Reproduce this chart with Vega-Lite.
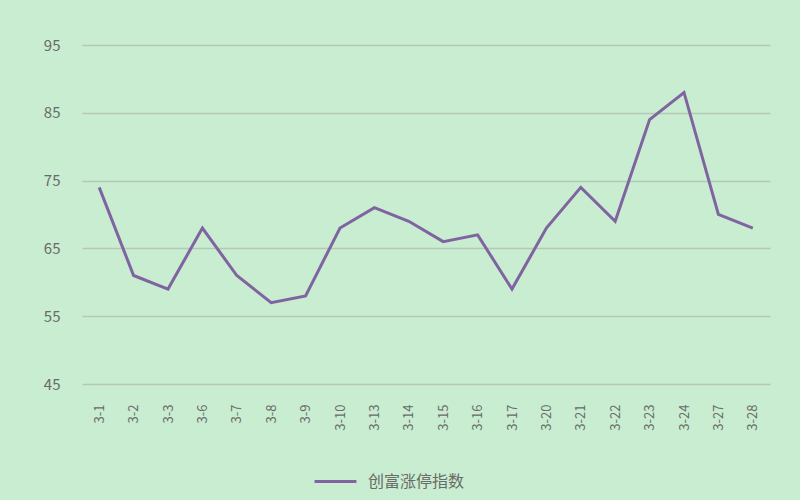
{
  "$schema": "https://vega.github.io/schema/vega-lite/v6.json",
  "width": 688,
  "height": 339,
  "autosize": {"type": "none"},
  "padding": {"left": 82, "top": 45, "right": 30, "bottom": 116},
  "background": "#c8edd0",
  "config": {
    "view": {"stroke": null},
    "font": "Noto Sans CJK SC"
  },
  "data": {
    "values": [
      {"date": "3-1", "index": 74},
      {"date": "3-2", "index": 61},
      {"date": "3-3", "index": 59},
      {"date": "3-6", "index": 68},
      {"date": "3-7", "index": 61},
      {"date": "3-8", "index": 57},
      {"date": "3-9", "index": 58},
      {"date": "3-10", "index": 68},
      {"date": "3-13", "index": 71},
      {"date": "3-14", "index": 69},
      {"date": "3-15", "index": 66},
      {"date": "3-16", "index": 67},
      {"date": "3-17", "index": 59},
      {"date": "3-20", "index": 68},
      {"date": "3-21", "index": 74},
      {"date": "3-22", "index": 69},
      {"date": "3-23", "index": 84},
      {"date": "3-24", "index": 88},
      {"date": "3-27", "index": 70},
      {"date": "3-28", "index": 68}
    ]
  },
  "mark": {"type": "line", "strokeWidth": 3},
  "encoding": {
    "x": {
      "field": "date",
      "type": "ordinal",
      "sort": null,
      "scale": {"type": "point", "padding": 0.5},
      "axis": {
        "title": null,
        "labelAngle": -90,
        "labelPadding": 20,
        "ticks": false,
        "domain": false,
        "labelFontSize": 13,
        "labelColor": "#6a6a6a",
        "grid": false
      }
    },
    "y": {
      "field": "index",
      "type": "quantitative",
      "scale": {"domain": [45, 95], "nice": false, "zero": false},
      "axis": {
        "title": null,
        "values": [45, 55, 65, 75, 85, 95],
        "ticks": false,
        "domain": false,
        "labelPadding": 22,
        "labelFontSize": 15,
        "labelColor": "#6a6a6a",
        "gridColor": "#b4c8b8",
        "gridWidth": 1.5
      }
    },
    "color": {
      "datum": "创富涨停指数",
      "type": "nominal",
      "scale": {"range": ["#8064a2"]},
      "legend": {
        "title": null,
        "orient": "none",
        "legendX": 231,
        "legendY": 414,
        "symbolType": "stroke",
        "symbolSize": 1750,
        "symbolStrokeWidth": 3,
        "labelFontSize": 16,
        "labelColor": "#6a6a6a",
        "labelOffset": 10
      }
    }
  }
}
